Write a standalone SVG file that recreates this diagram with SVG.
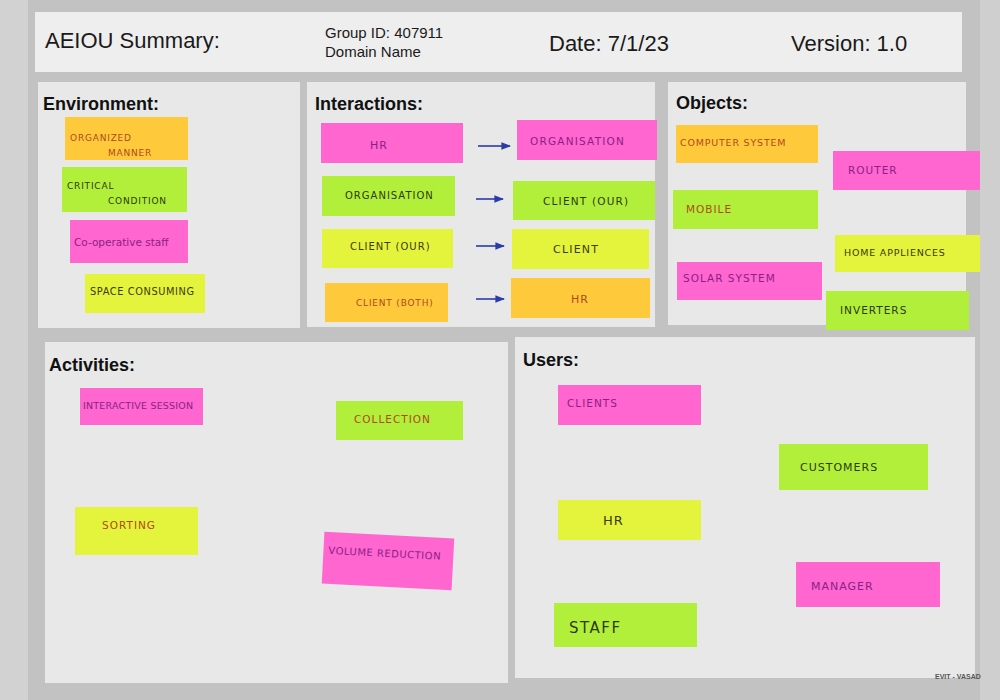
<svg xmlns="http://www.w3.org/2000/svg" width="1000" height="700" viewBox="0 0 1000 700">
<defs>
<style>
.panel{fill:#e8e8e8}
.hdr{font-family:"Liberation Sans",Arial,sans-serif;fill:#1a1a1a}
.title{font-family:"Liberation Sans",Arial,sans-serif;font-weight:bold;font-size:18px;fill:#111}
.note{font-family:"DejaVu Sans",sans-serif}
.pink{fill:#ff66d0}
.green{fill:#b2ef3a}
.yellow{fill:#e4f43c}
.orange{fill:#ffc93c}
.tp{fill:#8c1f86}
.tg{fill:#2d3a10}
.to{fill:#b04a1c}
.ty{fill:#3d3a10}
.arrow{stroke:#2a3ca8;stroke-width:1.6;fill:none}
</style>
<marker id="ah" viewBox="0 0 10 10" refX="9" refY="5" markerWidth="6" markerHeight="6" orient="auto">
<path d="M0,1 L10,5 L0,9 z" fill="#2a3ca8"/>
</marker>
</defs>
<rect x="0" y="0" width="1000" height="700" fill="#c2c2c2"/>
<rect x="0" y="0" width="28" height="700" fill="#d2d2d2"/>
<rect x="980" y="0" width="20" height="700" fill="#cfcfcf"/>

<g id="header">
<rect x="35" y="12" width="927" height="60" fill="#eeeeee"/>
<text x="45" y="48" class="hdr" font-size="22">AEIOU Summary:</text>
<text x="325" y="38" class="hdr" font-size="15">Group ID: 407911</text>
<text x="325" y="57" class="hdr" font-size="15">Domain Name</text>
<text x="549" y="51" class="hdr" font-size="22">Date: 7/1/23</text>
<text x="791" y="51" class="hdr" font-size="22">Version: 1.0</text>
</g>

<g id="environment">
<rect x="38" y="82" width="262" height="246" class="panel"/>
<text x="43" y="110" class="title">Environment:</text>
<g id="env-organized">
<rect x="65" y="117" width="123" height="43" class="orange"/>
<text x="70" y="141" class="note to" font-size="9" letter-spacing="0.8">ORGANIZED</text>
<text x="108" y="156" class="note to" font-size="9" letter-spacing="0.8">MANNER</text>
</g>
<g id="env-critical">
<rect x="62" y="167" width="125" height="45" class="green"/>
<text x="67" y="189" class="note tg" font-size="9" letter-spacing="0.8">CRITICAL</text>
<text x="108" y="204" class="note tg" font-size="9" letter-spacing="0.8">CONDITION</text>
</g>
<g id="env-coop">
<rect x="70" y="220" width="118" height="43" class="pink"/>
<text x="74" y="246" class="note tp" font-size="10.5">Co-operative staff</text>
</g>
<g id="env-space">
<rect x="85" y="274" width="120" height="39" class="yellow"/>
<text x="90" y="295" class="note ty" font-size="9.8" letter-spacing="0.6">SPACE CONSUMING</text>
</g>
</g>

<g id="interactions">
<rect x="307" y="82" width="348" height="245" class="panel"/>
<text x="315" y="110" class="title">Interactions:</text>
<g id="int-hr"><rect x="321" y="123" width="142" height="40" class="pink"/><text x="370" y="149" class="note tp" font-size="11" letter-spacing="1">HR</text></g>
<g id="int-org1"><rect x="517" y="120" width="140" height="40" class="pink"/><text x="530" y="145" class="note tp" font-size="10.5" letter-spacing="1.2">ORGANISATION</text></g>
<g id="int-org2"><rect x="322" y="176" width="133" height="40" class="green"/><text x="345" y="199" class="note tg" font-size="10" letter-spacing="1">ORGANISATION</text></g>
<g id="int-clientour1"><rect x="513" y="181" width="142" height="39" class="green"/><text x="543" y="205" class="note tg" font-size="10.5" letter-spacing="1.2">CLIENT (OUR)</text></g>
<g id="int-clientour2"><rect x="322" y="229" width="131" height="39" class="yellow"/><text x="350" y="250" class="note ty" font-size="10" letter-spacing="1">CLIENT (OUR)</text></g>
<g id="int-client"><rect x="512" y="229" width="137" height="40" class="yellow"/><text x="553" y="253" class="note ty" font-size="11" letter-spacing="1.2">CLIENT</text></g>
<g id="int-clientboth"><rect x="325" y="283" width="123" height="39" class="orange"/><text x="356" y="306" class="note to" font-size="9" letter-spacing="0.8">CLIENT (BOTH)</text></g>
<g id="int-hr2"><rect x="511" y="278" width="139" height="40" class="orange"/><text x="571" y="303" class="note to" font-size="11" letter-spacing="1">HR</text></g>
</g>

<g id="connectors">
<line x1="478" y1="146" x2="510" y2="146" class="arrow" marker-end="url(#ah)"/>
<line x1="476" y1="199" x2="503" y2="199" class="arrow" marker-end="url(#ah)"/>
<line x1="476" y1="246" x2="504" y2="246" class="arrow" marker-end="url(#ah)"/>
<line x1="476" y1="299" x2="504" y2="299" class="arrow" marker-end="url(#ah)"/>
</g>

<g id="objects">
<rect x="668" y="82" width="298" height="243" class="panel"/>
<text x="676" y="109" class="title">Objects:</text>
<g id="obj-computer"><rect x="676" y="125" width="142" height="38" class="orange"/><text x="680" y="146" class="note to" font-size="9.5" letter-spacing="0.8">COMPUTER SYSTEM</text></g>
<g id="obj-router"><rect x="833" y="151" width="147" height="39" class="pink"/><text x="848" y="174" class="note tp" font-size="10.5" letter-spacing="1">ROUTER</text></g>
<g id="obj-mobile"><rect x="673" y="190" width="145" height="39" class="green"/><text x="686" y="213" class="note to" font-size="10.5" letter-spacing="1">MOBILE</text></g>
<g id="obj-home"><rect x="835" y="235" width="145" height="37" class="yellow"/><text x="844" y="256" class="note ty" font-size="9.5" letter-spacing="0.8">HOME APPLIENCES</text></g>
<g id="obj-solar"><rect x="677" y="262" width="145" height="38" class="pink"/><text x="683" y="282" class="note tp" font-size="10.5" letter-spacing="1">SOLAR SYSTEM</text></g>
<g id="obj-inverters"><rect x="826" y="291" width="143" height="39" class="green"/><text x="840" y="314" class="note tg" font-size="10.5" letter-spacing="1">INVERTERS</text></g>
</g>

<g id="activities">
<rect x="45" y="342" width="463" height="341" class="panel"/>
<text x="49" y="371" class="title">Activities:</text>
<g id="act-interactive"><rect x="80" y="388" width="123" height="37" class="pink"/><text x="83" y="409" class="note tp" font-size="9.5" letter-spacing="0.2">INTERACTIVE SESSION</text></g>
<g id="act-collection"><rect x="336" y="401" width="127" height="39" class="green"/><text x="354" y="423" class="note to" font-size="10.5" letter-spacing="1">COLLECTION</text></g>
<g id="act-sorting"><rect x="75" y="507" width="123" height="48" class="yellow"/><text x="102" y="529" class="note to" font-size="10.5" letter-spacing="1">SORTING</text></g>
<g id="act-volume" transform="rotate(3 388 561)"><rect x="323" y="535" width="130" height="52" class="pink"/><text x="328" y="557" class="note tp" font-size="10" letter-spacing="0.5">VOLUME REDUCTION</text></g>
</g>

<g id="users">
<rect x="515" y="337" width="460" height="341" class="panel"/>
<text x="523" y="366" class="title">Users:</text>
<g id="usr-clients"><rect x="558" y="385" width="143" height="40" class="pink"/><text x="567" y="407" class="note tp" font-size="10.5" letter-spacing="1">CLIENTS</text></g>
<g id="usr-customers"><rect x="779" y="444" width="149" height="46" class="green"/><text x="800" y="471" class="note tg" font-size="11" letter-spacing="1">CUSTOMERS</text></g>
<g id="usr-hr"><rect x="558" y="500" width="143" height="40" class="yellow"/><text x="603" y="525" class="note ty" font-size="13" letter-spacing="1">HR</text></g>
<g id="usr-manager"><rect x="796" y="562" width="144" height="45" class="pink"/><text x="811" y="590" class="note tp" font-size="11" letter-spacing="1">MANAGER</text></g>
<g id="usr-staff"><rect x="554" y="603" width="143" height="44" class="green"/><text x="569" y="633" class="note tg" font-size="15" letter-spacing="1.5">STAFF</text></g>
<text x="935" y="679" font-family="Liberation Sans, Arial, sans-serif" font-size="7" font-weight="bold" fill="#555">EVIT - VASAD</text>
</g>
</svg>
